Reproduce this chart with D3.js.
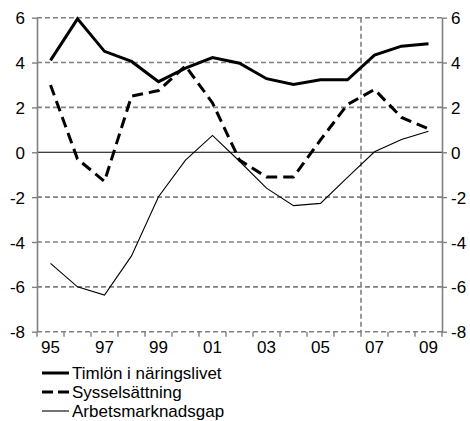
<!DOCTYPE html>
<html>
<head>
    <script src="https://d3js.org/d3.v7.min.js"></script>
    <style>
        body {
            margin: 0;
            background-color: white;
        }

        svg text {
            font-family: 'Liberation Sans', Arial, sans-serif;
            font-size: 17px;
            fill: #000;
        }
    </style>
</head>

<body>
    <svg id="chart" width="470" height="421"></svg>
    <script>
        // data
        var years = [1995, 1996, 1997, 1998, 1999, 2000, 2001, 2002, 2003, 2004, 2005, 2006, 2007, 2008, 2009];
        var timlon = [4.1, 5.95, 4.5, 4.05, 3.15, 3.75, 4.22, 3.97, 3.28, 3.02, 3.23, 3.23, 4.33, 4.73, 4.84];
        var syssel = [3.0, -0.3, -1.3, 2.5, 2.75, 3.85, 2.2, -0.35, -1.1, -1.1, 0.55, 2.13, 2.8, 1.55, 1.05];
        var gap = [-4.95, -6.0, -6.37, -4.62, -1.98, -0.35, 0.75, -0.4, -1.6, -2.38, -2.28, -1.12, 0.02, 0.57, 0.94];
        var yTicks = [-8, -6, -4, -2, 0, 2, 4, 6];
        var xLabels = ['95', '97', '99', '01', '03', '05', '07', '09'];
        var forecastStart = 2007;
        var legendNames = ['Timlön i näringslivet', 'Sysselsättning', 'Arbetsmarknadsgap'];

        var plotL = 37, plotR = 442, plotT = 17.7, plotB = 331.7;
        var svg = d3.select('#chart');

        var x = d3.scaleBand().domain(years).range([plotL, plotR]);
        var y = d3.scaleLinear().domain([-8, 6]).range([plotB, plotT]);

        // horizontal dashed grid
        svg.append('g')
            .selectAll('line')
            .data(yTicks.filter(function (d) { return d !== 0; }))
            .join('line')
            .attr('x1', plotL).attr('x2', plotR)
            .attr('y1', function (d) { return y(d); })
            .attr('y2', function (d) { return y(d); })
            .attr('stroke', '#808080')
            .attr('stroke-width', 1.6)
            .attr('stroke-dasharray', '5,3');

        // vertical forecast divider
        svg.append('line')
            .attr('x1', x(forecastStart)).attr('x2', x(forecastStart))
            .attr('y1', plotT).attr('y2', plotB)
            .attr('stroke', '#808080')
            .attr('stroke-width', 1.6)
            .attr('stroke-dasharray', '5,3');

        // zero line
        svg.append('line')
            .attr('x1', plotL).attr('x2', plotR)
            .attr('y1', y(0)).attr('y2', y(0))
            .attr('stroke', '#000')
            .attr('stroke-width', 1.2);

        // axes (plain hyphen for minus, like the original)
        var fmt = function (d) { return String(d); };
        var yLeft = d3.axisLeft(y).tickValues(yTicks).tickFormat(fmt).tickSize(5).tickPadding(7).tickSizeOuter(0);
        var yRight = d3.axisRight(y).tickValues(yTicks).tickFormat(fmt).tickSize(5).tickPadding(4).tickSizeOuter(0);

        var gl = svg.append('g').attr('transform', 'translate(' + plotL + ',0)').call(yLeft);
        var gr = svg.append('g').attr('transform', 'translate(' + plotR + ',0)').call(yRight);
        [gl, gr].forEach(function (g) {
            g.select('.domain').attr('stroke', '#808080').attr('stroke-width', 1.6);
            g.selectAll('.tick line').attr('stroke', '#808080').attr('stroke-width', 1.4);
            g.selectAll('text').attr('font-size', 17).attr('font-family', null).attr('dy', '0.36em');
        });

        // x ticks between years, labels every other year
        svg.append('g')
            .selectAll('line')
            .data(years.concat([years[years.length - 1] + 1]))
            .join('line')
            .attr('x1', function (d, i) { return plotL + i * x.bandwidth(); })
            .attr('x2', function (d, i) { return plotL + i * x.bandwidth(); })
            .attr('y1', plotB).attr('y2', plotB + 5)
            .attr('stroke', '#808080')
            .attr('stroke-width', 1.4);

        svg.append('g')
            .selectAll('text')
            .data(years.filter(function (d, i) { return i % 2 === 0; }))
            .join('text')
            .attr('x', function (d) { return x(d) + x.bandwidth() / 2; })
            .attr('y', plotB + 21.5)
            .attr('text-anchor', 'middle')
            .text(function (d, i) { return xLabels[i]; });

        // series
        var series = [
            { values: timlon, width: 3, dash: null },
            { values: syssel, width: 3, dash: '11,6' },
            { values: gap, width: 1.1, dash: null }
        ];

        var line = d3.line()
            .x(function (d, i) { return x(years[i]) + x.bandwidth() / 2; })
            .y(function (d) { return y(d); });

        svg.append('g')
            .selectAll('path')
            .data(series)
            .join('path')
            .attr('d', function (d) { return line(d.values); })
            .attr('fill', 'none')
            .attr('stroke', '#000')
            .attr('stroke-width', function (d) { return d.width; })
            .attr('stroke-dasharray', function (d) { return d.dash; })
            .attr('stroke-linejoin', 'miter');

        // legend
        var legend = svg.append('g')
            .selectAll('g')
            .data(series)
            .join('g')
            .attr('transform', function (d, i) { return 'translate(42,' + (373 + i * 19) + ')'; });

        legend.append('line')
            .attr('x1', 0).attr('x2', 27)
            .attr('stroke', '#000')
            .attr('stroke-width', function (d) { return d.width; })
            .attr('stroke-dasharray', function (d) { return d.dash ? '11,5' : null; });

        legend.append('text')
            .attr('x', 30)
            .attr('y', 6)
            .text(function (d, i) { return legendNames[i]; });
    </script>
</body>
</html>
